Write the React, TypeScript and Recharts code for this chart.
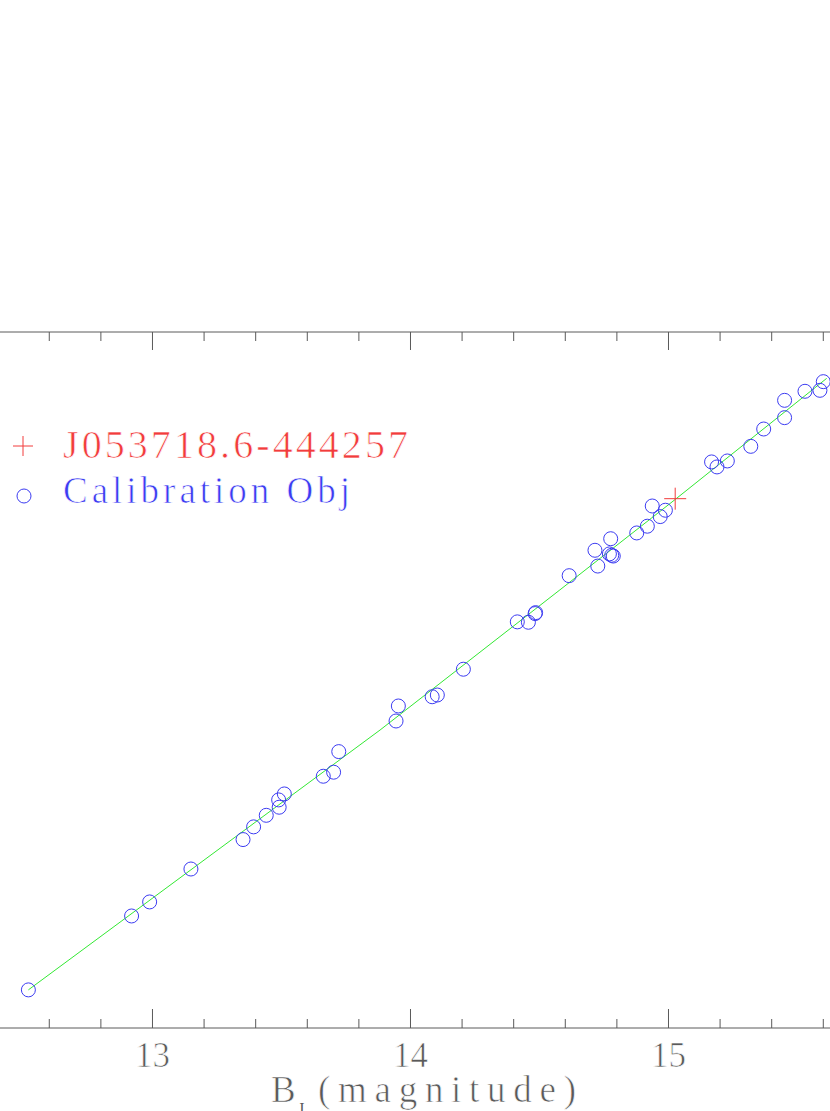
import React from 'react';
import { ScatterChart, Scatter, XAxis, YAxis, Legend, Label } from 'recharts';

// Tick values on the B_J axis (minor every 0.2, labelled at integers)
const xTicks = [12.6, 12.8, 13, 13.2, 13.4, 13.6, 13.8, 14, 14.2, 14.4, 14.6, 14.8, 15, 15.2, 15.4, 15.6];

// Calibration objects: B_J magnitude vs measured value
const calibBJ = [
  12.519, 12.919, 12.989, 13.149, 13.351, 13.392, 13.441, 13.491, 13.489, 13.511,
  13.662, 13.702, 13.722, 13.944, 13.953, 14.084, 14.104, 14.205, 14.414, 14.457,
  14.483, 14.485, 14.615, 14.715, 14.726, 14.771, 14.78, 14.786, 14.776, 14.877,
  14.918, 14.937, 14.968, 14.988, 15.167, 15.188, 15.228, 15.319, 15.369, 15.45,
  15.45, 15.529, 15.587, 15.6,
];
const calibMeasured = [
  12.482, 12.866, 12.939, 13.11, 13.263, 13.329, 13.389, 13.431, 13.469, 13.5,
  13.592, 13.613, 13.72, 13.879, 13.957, 14.005, 14.014, 14.148, 14.394, 14.392,
  14.437, 14.442, 14.634, 14.766, 14.684, 14.747, 14.74, 14.736, 14.826, 14.856,
  14.891, 14.996, 14.941, 14.974, 15.225, 15.199, 15.23, 15.306, 15.396, 15.455,
  15.545, 15.592, 15.597, 15.642,
];

// Target object
const targetBJ = [15.026];
const targetMeasured = [15.034];

// Calibration fit curve
const fitBJ = [12.519, 13.882, 14.579, 15.026, 15.613];
const fitMeasured = [12.482, 13.832, 14.56, 15.03, 15.659];

const legendNames = ['J053718.6-444257', 'Calibration Obj'];
const legendColors = ['#f23c3c', '#3c3cf2'];
const axisTitleMain = 'B';
const axisTitleSub = 'J';
const axisTitleRest = '(magnitude)';

const calibData = calibBJ.map((x, i) => ({ x, y: calibMeasured[i] }));
const targetData = targetBJ.map((x, i) => ({ x, y: targetMeasured[i] }));
const fitData = fitBJ.map((x, i) => ({ x, y: fitMeasured[i] }));

const FONT = '"Liberation Serif", "DejaVu Serif", serif';
const AXIS = '#5a5a5a';
const THIN = { stroke: '#ffffff', strokeWidth: 0.7 };

const isMajor = (v: number) => Math.abs(v - Math.round(v)) < 1e-6;

const BottomTick = (props: any) => {
  const { x, y, payload } = props;
  const v = payload.value as number;
  const major = isMajor(v);
  return (
    <g>
      <line x1={x} x2={x} y1={y} y2={y - (major ? 19 : 9)} stroke={AXIS} strokeWidth={1} />
      {major && (
        <text x={x} y={y + 39} textAnchor="middle" fontSize={35} fill={AXIS} fontFamily={FONT} {...THIN}>
          {String(Math.round(v))}
        </text>
      )}
    </g>
  );
};

const TopTick = (props: any) => {
  const { x, y, payload } = props;
  const major = isMajor(payload.value as number);
  return <line x1={x} x2={x} y1={y} y2={y + (major ? 18 : 9)} stroke={AXIS} strokeWidth={1} />;
};

const Circle = (props: any) => {
  const { cx, cy } = props;
  return <circle cx={cx} cy={cy} r={7} fill="none" stroke={legendColors[1]} strokeWidth={1} />;
};

const Plus = (props: any) => {
  const { cx, cy } = props;
  return (
    <path d={`M${cx - 11},${cy}H${cx + 11}M${cx},${cy - 11}V${cy + 11}`} stroke={legendColors[0]} strokeWidth={1} fill="none" />
  );
};

const Nothing = () => <g />;

const Title = (props: any) => {
  const vb = props.viewBox || { x: 0, y: 0, width: 0, height: 0 };
  const left = vb.x + vb.width / 2 - 144;
  const base = vb.y + 74;
  return (
    <g fill={AXIS} fontFamily={FONT}>
      <text x={left} y={base} fontSize={37} {...THIN}>{axisTitleMain}</text>
      <text x={left + 27} y={base + 12} fontSize={16}>{axisTitleSub}</text>
      <text x={left + 47} y={base} fontSize={37} textLength={258} lengthAdjust="spacing" {...THIN}>{axisTitleRest}</text>
    </g>
  );
};

const LegendContent = () => (
  <svg width={430} height={100} style={{ display: 'block' }}>
    <path d="M13,26H33M23,16V36" stroke={legendColors[0]} strokeWidth={1} fill="none" />
    <text x={63} y={38} fontSize={40} fill={legendColors[0]} fontFamily={FONT} textLength={345} lengthAdjust="spacing" {...THIN}>
      {legendNames[0]}
    </text>
    <circle cx={24} cy={76} r={7} fill="none" stroke={legendColors[1]} strokeWidth={1} />
    <text x={63} y={83} fontSize={37} fill={legendColors[1]} fontFamily={FONT} textLength={287} lengthAdjust="spacing" {...THIN}>
      {legendNames[1]}
    </text>
  </svg>
);

export default function App() {
  return (
    <div style={{ position: 'absolute', left: 0, top: 0, width: 830, height: 1111, overflow: 'hidden', background: '#fff' }}>
      <ScatterChart width={830} height={1111} margin={{ top: 330, right: 0, bottom: 0, left: 0 }}>
        <XAxis
          xAxisId="bottom"
          orientation="bottom"
          type="number"
          dataKey="x"
          domain={[12.409, 15.626]}
          allowDataOverflow
          ticks={xTicks}
          interval={0}
          height={83}
          tickSize={0}
          tickMargin={0}
          tickLine={false}
          axisLine={{ stroke: AXIS, strokeWidth: 1 }}
          tick={<BottomTick />}
        >
          <Label content={<Title />} />
        </XAxis>
        <XAxis
          xAxisId="top"
          orientation="top"
          type="number"
          dataKey="x"
          domain={[12.409, 15.626]}
          allowDataOverflow
          ticks={xTicks}
          interval={0}
          height={2}
          tickSize={0}
          tickMargin={0}
          tickLine={false}
          axisLine={{ stroke: AXIS, strokeWidth: 1 }}
          tick={<TopTick />}
        />
        <YAxis type="number" dataKey="y" domain={[12.284, 15.9]} allowDataOverflow hide />
        <Scatter
          xAxisId="top"
          data={fitData}
          line={{ stroke: '#33e833', strokeWidth: 1 }}
          shape={<Nothing />}
          legendType="none"
          isAnimationActive={false}
        />
        <Scatter xAxisId="bottom" data={calibData} shape={<Circle />} isAnimationActive={false} />
        <Scatter xAxisId="bottom" data={targetData} shape={<Plus />} isAnimationActive={false} />
        <Legend
          layout="vertical"
          align="center"
          verticalAlign="middle"
          content={<LegendContent />}
          wrapperStyle={{ position: 'absolute', left: 0, top: 420, width: 430, height: 100 }}
        />
      </ScatterChart>
    </div>
  );
}
